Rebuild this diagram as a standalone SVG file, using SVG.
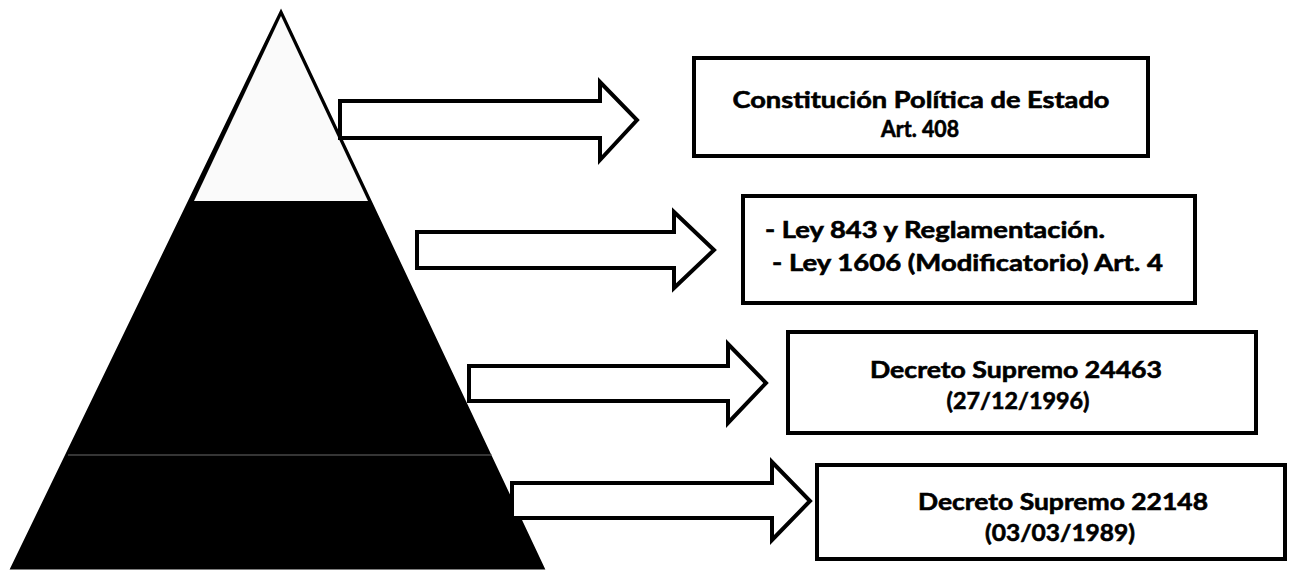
<svg xmlns="http://www.w3.org/2000/svg" width="1289" height="570" viewBox="0 0 1289 570">
<style>
.box{fill:#fff;stroke:#000;stroke-width:4}
.arr{fill:#fff;stroke:#000;stroke-width:4;stroke-linejoin:miter}
.t{font-family:Lato,"Open Sans","Liberation Sans",sans-serif;font-weight:bold;font-size:23px;fill:#000;stroke:#000;stroke-width:0.6}
.c{text-anchor:middle}
</style>
<rect width="1289" height="570" fill="#fff"/>
<g id="pyramid">
<polygon points="281,12 543,568 12,568" fill="#000" stroke="#000" stroke-width="3"/>
<polygon points="281,16 368,201 194,201" fill="#fafafa"/>
<line x1="68" y1="455" x2="492" y2="455" stroke="#6a6a6a" stroke-width="1"/>
</g>
<g id="connectors">
<polygon class="arr" points="340,101 600,101 600,82 637,120 600,160 600,138 340,138"/>
<polygon class="arr" points="417,232 674,232 674,212 714,250 674,288 674,268 417,268"/>
<polygon class="arr" points="469,366 728,366 728,344 766,383 728,423 728,401 469,401"/>
<polygon class="arr" points="512,483 772,483 772,462 810,501 772,540 772,518 512,518"/>
</g>
<g id="node1">
<rect class="box" x="694" y="58" width="454" height="98"/>
<text class="t c" x="921" y="108" textLength="377" lengthAdjust="spacingAndGlyphs">Constitución Política de Estado</text>
<text class="t c" x="920" y="137" textLength="78" lengthAdjust="spacingAndGlyphs">Art. 408</text>
</g>
<g id="node2">
<rect class="box" x="743" y="196" width="452" height="107"/>
<text class="t" x="765" y="238" textLength="340" lengthAdjust="spacingAndGlyphs">- Ley 843 y Reglamentación.</text>
<text class="t" x="772" y="271" textLength="391" lengthAdjust="spacingAndGlyphs">- Ley 1606 (Modificatorio) Art. 4</text>
</g>
<g id="node3">
<rect class="box" x="788" y="332" width="468" height="101"/>
<text class="t c" x="1016" y="378" textLength="292" lengthAdjust="spacingAndGlyphs">Decreto Supremo 24463</text>
<text class="t c" x="1018" y="409" textLength="143" lengthAdjust="spacingAndGlyphs">(27/12/1996)</text>
</g>
<g id="node4">
<rect class="box" x="817" y="465" width="468" height="94"/>
<text class="t c" x="1063" y="510" textLength="290" lengthAdjust="spacingAndGlyphs">Decreto Supremo 22148</text>
<text class="t c" x="1060" y="541" textLength="150" lengthAdjust="spacingAndGlyphs">(03/03/1989)</text>
</g>
</svg>
